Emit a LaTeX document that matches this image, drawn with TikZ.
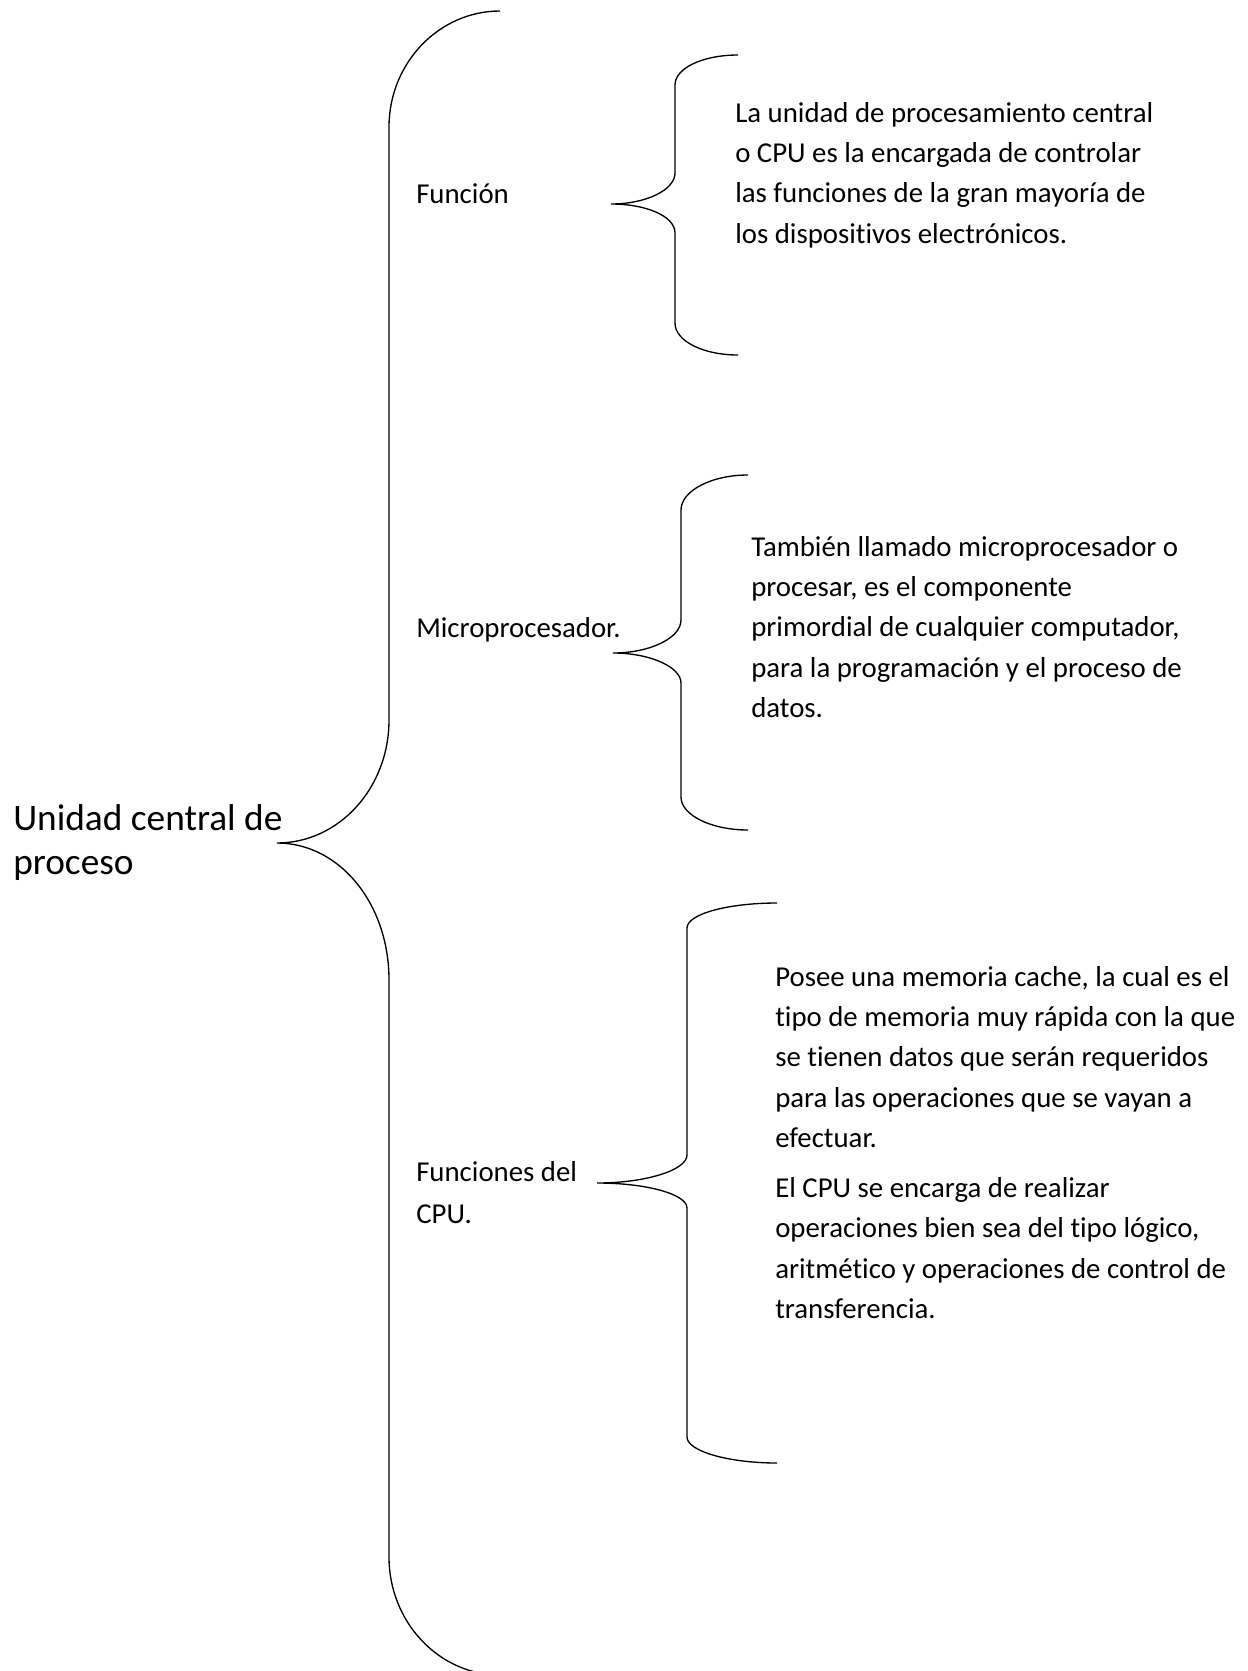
\documentclass[tikz,border=0pt]{standalone}
\usepackage{fontspec}
\setmainfont{Carlito}[Ligatures=NoCommon]
\tikzset{
  brace/.style={line width=1pt},
  label/.style={inner sep=0pt,align=left,font=\fontsize{21.6}{31.5}\selectfont},
  txt/.style={inner sep=0pt,align=left,anchor=west,font=\fontsize{21.6}{30.2}\selectfont},
}
\begin{document}
\begin{tikzpicture}[x=0.75pt,y=-0.75pt]
\useasboundingbox (0,0) rectangle (1248,1671);

\node[inner sep=0pt,align=left,anchor=west,font=\fontsize{28}{33}\selectfont] (ucp) at (13,843) {Unidad central de\\proceso};
\node[label,anchor=base west] (funcion) at (416,203) {Función};
\node[label,anchor=base west] (micro) at (416,637) {Microprocesador.};
\node[label,anchor=west] (funciones) at (416,1193) {Funciones del\\CPU.};

\node[txt] (funciontxt) at (735,175) {La unidad de procesamiento central\\o CPU es la encargada de controlar\\las funciones de la gran mayoría de\\los dispositivos electrónicos.};
\node[txt] (microtxt) at (751,627) {También llamado microprocesador o\\procesar, es el componente\\primordial de cualquier computador,\\para la programación y el proceso de\\datos.};
\node[txt] (cachetxt) at (775,1057) {Posee una memoria cache, la cual es el\\tipo de memoria muy rápida con la que\\se tienen datos que serán requeridos\\para las operaciones que se vayan a\\efectuar.};
\node[txt] (opstxt) at (775,1248) {El CPU se encarga de realizar\\operaciones bien sea del tipo lógico,\\aritmético y operaciones de control de\\transferencia.};

% big brace
\coordinate (t0) at (277,843);
\draw[brace] (500,11) .. controls (439,11) and (389,63) .. (389,127) -- (389,720)
  .. controls (389,788) and (339,843) .. (t0)
  .. controls (339,843) and (389,903) .. (389,980) -- (389,1557)
  .. controls (389,1622) and (439,1675) .. (500,1675);

% small braces
\coordinate (t1) at (611,204);
\draw[brace] (738,55) .. controls (703,55) and (675,68) .. (675,85) -- (675,173)
  .. controls (675,190) and (646,204) .. (t1)
  .. controls (646,204) and (675,216) .. (675,233) -- (675,323)
  .. controls (675,341) and (703,355) .. (738,355);

\coordinate (t2) at (613,653);
\draw[brace] (748,475) .. controls (711,475) and (681,491) .. (681,510) -- (681,620)
  .. controls (681,638) and (650,653) .. (t2)
  .. controls (650,653) and (681,667) .. (681,683) -- (681,797)
  .. controls (681,815) and (711,830) .. (748,830);

\coordinate (t3) at (597,1183);
\draw[brace] (777,903) .. controls (728,903) and (687,914) .. (687,928) -- (687,1155)
  .. controls (687,1170) and (646,1183) .. (t3)
  .. controls (646,1183) and (687,1194) .. (687,1208) -- (687,1437)
  .. controls (687,1451) and (728,1463) .. (777,1463);
\end{tikzpicture}
\end{document}
